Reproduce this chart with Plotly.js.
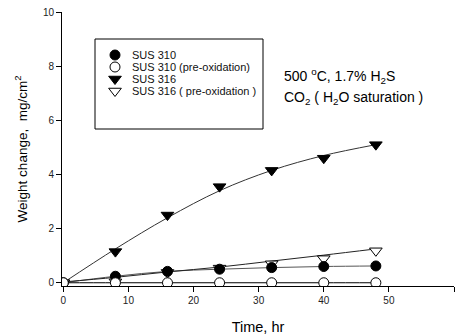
<!DOCTYPE html>
<html><head><meta charset="utf-8">
<script src="https://cdn.plot.ly/plotly-3.0.1.min.js"></script>
<style>body{margin:0;background:#fff}#c{width:456px;height:335px}</style>
</head><body><div id="c"></div>
<script>
const time = [0, 8, 16, 24, 32, 40, 48];
const sus310 = [0, 0.24, 0.42, 0.5, 0.56, 0.6, 0.62];
const sus310Pre = [0, 0, 0, 0, 0, 0, 0];
const sus316 = [0, 1.15, 2.5, 3.55, 4.15, 4.6, 5.1];
const sus316Pre = [0, 0.03, 0.38, 0.54, 0.7, 0.89, 1.18];
// fitted curves drawn in the picture, read from it
const sus316Fit = [0, 1.25, 2.4, 3.4, 4.15, 4.7, 5.1];
const sus316PreFit = [0.03, 0.2, 0.4, 0.58, 0.8, 1.02, 1.25];
const names = ['SUS 310', 'SUS 310 (pre-oxidation)', 'SUS 316', 'SUS 316 ( pre-oxidation )'];
const xTicks = [0, 10, 20, 30, 40, 50, 60];
const yTicks = [0, 2, 4, 6, 8, 10];

const series = [
  {y: sus310, fit: sus310, symbol: 'circle', fill: '#000', size: 10, line: '#555'},
  {y: sus310Pre, fit: sus310Pre, symbol: 'circle', fill: '#fff', size: 10, line: '#000'},
  {y: sus316, fit: sus316Fit, symbol: 'triangle-down', fill: '#000', size: 11, line: '#333'},
  {y: sus316Pre, fit: sus316PreFit, symbol: 'triangle-down', fill: '#fff', size: 11, line: '#222'}
];

const data = [];
series.forEach(s => data.push({x: time, y: s.fit, type: 'scatter', mode: 'lines', showlegend: false,
  line: {color: s.line, width: 1, shape: 'spline'}, hoverinfo: 'skip'}));
[2, 3, 0, 1].forEach(i => {
  const s = series[i];
  data.push({x: time, y: s.y, name: names[i], type: 'scatter', mode: 'markers', showlegend: false,
    marker: {symbol: s.symbol, size: s.size, color: s.fill, line: {color: '#000', width: 1}}});
});
// legend key symbols on a pixel helper axis
const legX = 115, legText = 130, legY0 = 55, legDy = 12;
series.forEach((s, i) => data.push({x: [legX], y: [legY0 + i * legDy], xaxis: 'x2', yaxis: 'y2',
  type: 'scatter', mode: 'markers', showlegend: false, hoverinfo: 'skip',
  marker: {symbol: s.symbol, size: s.size, color: s.fill, line: {color: '#000', width: 1}}}));

const annotations = names.map((n, i) => ({xref: 'x2', yref: 'y2', x: legText, y: legY0 + i * legDy,
  xanchor: 'left', yanchor: 'middle', showarrow: false, text: n, font: {size: 11, color: '#111'}}));
annotations.push(
  {xref: 'x2', yref: 'y2', x: 282, y: 76, xanchor: 'left', yanchor: 'middle', showarrow: false,
   text: '500 <sup>o</sup>C, 1.7% H<sub>2</sub>S', font: {size: 14}},
  {xref: 'x2', yref: 'y2', x: 282, y: 98, xanchor: 'left', yanchor: 'middle', showarrow: false,
   text: 'CO<sub>2</sub> ( H<sub>2</sub>O saturation )', font: {size: 14}}
);

const layout = {
  width: 456, height: 335,
  margin: {l: 62, r: 2, t: 12, b: 49},
  paper_bgcolor: '#fff', plot_bgcolor: '#fff',
  font: {family: 'Arial, Liberation Sans, sans-serif', color: '#000'},
  showlegend: false,
  xaxis: {range: [-0.2, 60], tickvals: xTicks, ticks: 'outside', ticklen: 5, tickcolor: '#000',
    showline: true, linecolor: '#000', linewidth: 1, showgrid: false, zeroline: false,
    tickfont: {size: 10, color: '#222'},
    title: {text: 'Time, hr', font: {size: 14.5, color: '#000'}, standoff: 16}},
  yaxis: {range: [-0.12, 10], tickvals: yTicks, ticks: 'outside', ticklen: 5, tickcolor: '#000',
    showline: true, linecolor: '#000', linewidth: 1, showgrid: false, zeroline: false,
    tickfont: {size: 10, color: '#222'},
    title: {text: 'Weight change,  mg/cm<sup>2</sup>', font: {size: 13.5, color: '#000'}, standoff: 12}},
  xaxis2: {overlaying: 'x', range: [62, 454], visible: false, fixedrange: true},
  yaxis2: {overlaying: 'y', range: [286, 12], visible: false, fixedrange: true},
  shapes: [{type: 'rect', xref: 'x2', yref: 'y2', x0: 95, x1: 263, y0: 39, y1: 129,
    line: {color: '#000', width: 1}}],
  annotations: annotations
};
Plotly.newPlot('c', data, layout, {displayModeBar: false, staticPlot: true});
</script></body></html>
